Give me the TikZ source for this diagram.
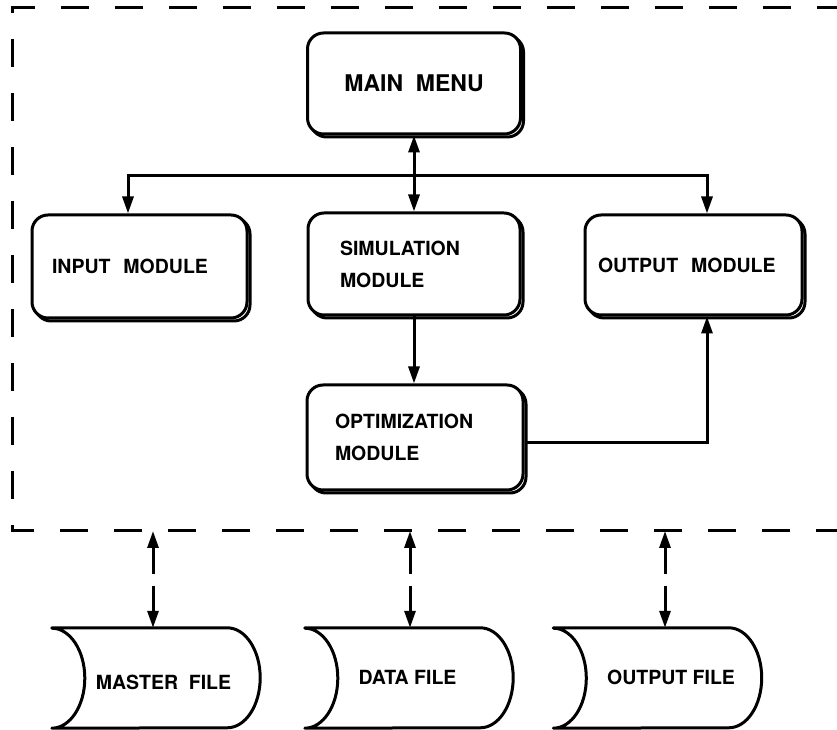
\documentclass[tikz,border=0pt]{standalone}
\usepackage{fontspec}
\setmainfont{TeX Gyre Heros}
\usetikzlibrary{arrows.meta,shadows,calc}
\begin{document}
\begin{tikzpicture}[x=1pt,y=1pt,
  >={Triangle[length=17pt,width=11pt]},
  modbox/.style={draw, line width=3pt, rounded corners=16pt, fill=white,
    copy shadow={shadow xshift=3pt, shadow yshift=-3pt},
    font=\fontsize{19.5}{32}\selectfont\bfseries, inner sep=0pt, align=left},
  filebox/.style={minimum width=208pt, minimum height=100pt, inner sep=0pt},
  filetext/.style={font=\fontsize{19.5}{24}\selectfont\bfseries, inner sep=0pt},
  outline/.style={line width=3pt, line join=round},
  conn/.style={line width=3pt},
  dconn/.style={line width=3pt, dash pattern=on 27pt off 12pt on 200pt off 1pt},
  boundary/.style={line width=3pt, dash pattern=on 28pt off 26pt, dash phase=8pt}]
\useasboundingbox (0,0) rectangle (837,730);

% dashed system boundary
\coordinate (btr) at (837,722);
\coordinate (btl) at (12,722);
\coordinate (bbl) at (12,199);
\coordinate (bbr) at (837,199);
\draw[boundary] (btr) -- (btl) -- (bbl) -- (bbr);

% modules
\node[modbox, minimum width=213pt, minimum height=101pt, align=center,
  font=\fontsize{23}{28}\selectfont\bfseries] (main) at (414,646.5) {MAIN\ \ MENU};
\node[modbox, minimum width=215pt, minimum height=103pt, text width=175pt] (input) at (139.5,463.5) {INPUT\ \ MODULE};
\node[modbox, minimum width=212pt, minimum height=102pt, text width=148pt] (sim) at (414,466) {SIMULATION\\MODULE};
\node[modbox, minimum width=217pt, minimum height=100pt, text width=191pt] (output) at (693.5,465) {OUTPUT\ \ MODULE};
\node[modbox, minimum width=216pt, minimum height=105pt, text width=160pt] (opt) at (415,292.5) {OPTIMIZATION\\MODULE};

% connectors between modules
\coordinate (hub) at (414,554);
\draw[conn,<->] (main.south) -- (sim.north);
\draw[conn,->] (hub) -| ([xshift=-11.5pt]input.north);
\draw[conn,->] (hub) -| ([xshift=13.5pt]output.north);
\draw[conn,->] (sim.south) -- (opt.north -| sim.south);
\draw[conn,->] ([yshift=-5pt]opt.east) -| ([xshift=13.5pt]output.south);

% files
\node[filebox] (master) at (156,52) {};
\node[filebox] (data) at (409,52) {};
\node[filebox] (ofile) at (657.5,52) {};
\foreach \f in {master,data,ofile}{
  \draw[outline] (\f.north west) -- ([xshift=-33pt]\f.north east)
    arc[start angle=90, end angle=-90, x radius=33pt, y radius=50pt]
    -- (\f.south west)
    arc[start angle=-90, end angle=90, x radius=33pt, y radius=50pt] -- cycle;
}
\node[filetext] at ([xshift=7.5pt,yshift=-4pt]master.center) {MASTER\ \ FILE};
\node[filetext] at ([xshift=-1.5pt,yshift=1pt]data.center) {DATA FILE};
\node[filetext] at ([xshift=13.5pt,yshift=1pt]ofile.center) {OUTPUT FILE};

% dashed file connectors
\draw[dconn,<->] ([xshift=-3pt]master.north |- bbl) -- ([xshift=-3pt]master.north);
\draw[dconn,<->] ([xshift=1pt]data.north |- bbl) -- ([xshift=1pt]data.north);
\draw[dconn,<->] ([xshift=7.5pt]ofile.north |- bbl) -- ([xshift=7.5pt]ofile.north);
\end{tikzpicture}
\end{document}
